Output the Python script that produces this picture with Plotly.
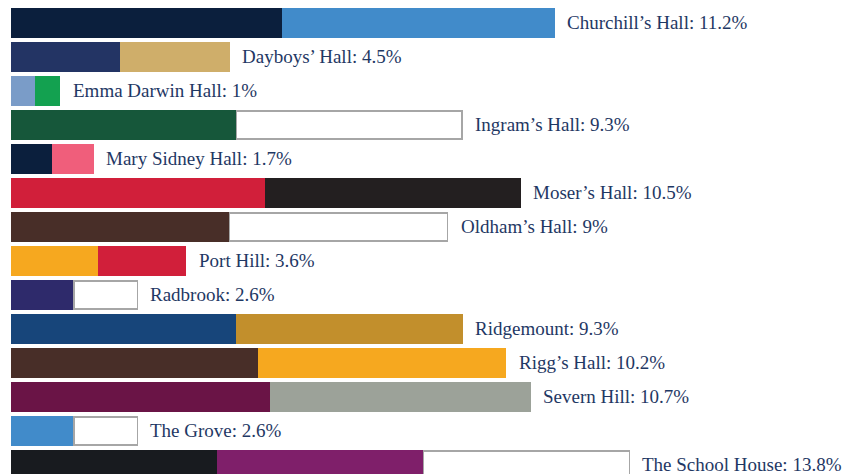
import plotly.graph_objects as go

houses = ["Churchill’s Hall", "Dayboys’ Hall", "Emma Darwin Hall", "Ingram’s Hall",
          "Mary Sidney Hall", "Moser’s Hall", "Oldham’s Hall", "Port Hill", "Radbrook",
          "Ridgemount", "Rigg’s Hall", "Severn Hill", "The Grove", "The School House"]
percent = [11.2, 4.5, 1, 9.3, 1.7, 10.5, 9, 3.6, 2.6, 9.3, 10.2, 10.7, 2.6, 13.8]
# longest bar drawn is capped (the School House bar is shortened in the original)
max_shown = 12.75

house_colours = [
    ["#0b1f3d", "#418bca"],
    ["#233464", "#cfae6a"],
    ["#7a9cc8", "#13a150"],
    ["#16573a", "#ffffff"],
    ["#0b1f3d", "#f05e7b"],
    ["#d11f3a", "#231f20"],
    ["#482e28", "#ffffff"],
    ["#f6a81f", "#d11f3a"],
    ["#2e2a6b", "#ffffff"],
    ["#17457a", "#c28f2c"],
    ["#482e28", "#f6a81f"],
    ["#6a1446", "#9ca299"],
    ["#418bca", "#ffffff"],
    ["#181b1f", "#7f1f6a", "#ffffff"],
]

shown = [min(p, max_shown) for p in percent]
n_seg = max(len(c) for c in house_colours)

fig = go.Figure()
for k in range(n_seg):
    xs, fills, lines = [], [], []
    for s, cols in zip(shown, house_colours):
        if k < len(cols):
            xs.append(s / len(cols))
            c = cols[k]
            fills.append(c)
            lines.append("#a6a6a6" if c == "#ffffff" else c)
        else:
            xs.append(0)
            fills.append("rgba(0,0,0,0)")
            lines.append("rgba(0,0,0,0)")
    fig.add_trace(go.Bar(
        y=houses, x=xs, orientation="h",
        marker=dict(color=fills, line=dict(color=lines, width=1.2)),
        hoverinfo="skip", showlegend=False,
    ))

for h, p, s in zip(houses, percent, shown):
    fig.add_annotation(
        x=s, y=h, xref="x", yref="y", text=f"{h}: {p:g}%",
        showarrow=False, xanchor="left", yanchor="middle", xshift=11,
        font=dict(family="Liberation Serif, serif", size=19, color="#1f3864"),
    )

px_per_unit = 48.5
plot_w = 846 - 11
fig.update_layout(
    width=846, height=474,
    margin=dict(l=11, r=0, t=0, b=0),
    barmode="stack", bargap=6 / 34,
    paper_bgcolor="white", plot_bgcolor="white",
    xaxis=dict(range=[0, plot_w / px_per_unit], visible=False),
    yaxis=dict(type="category", categoryorder="array", categoryarray=houses,
               range=[-0.676 + 474 / 34, -0.676], visible=False),
)

fig.write_html("out.html",
               config={"displayModeBar": False},
               post_script="document.body.style.margin='0';document.body.style.overflow='hidden';")
